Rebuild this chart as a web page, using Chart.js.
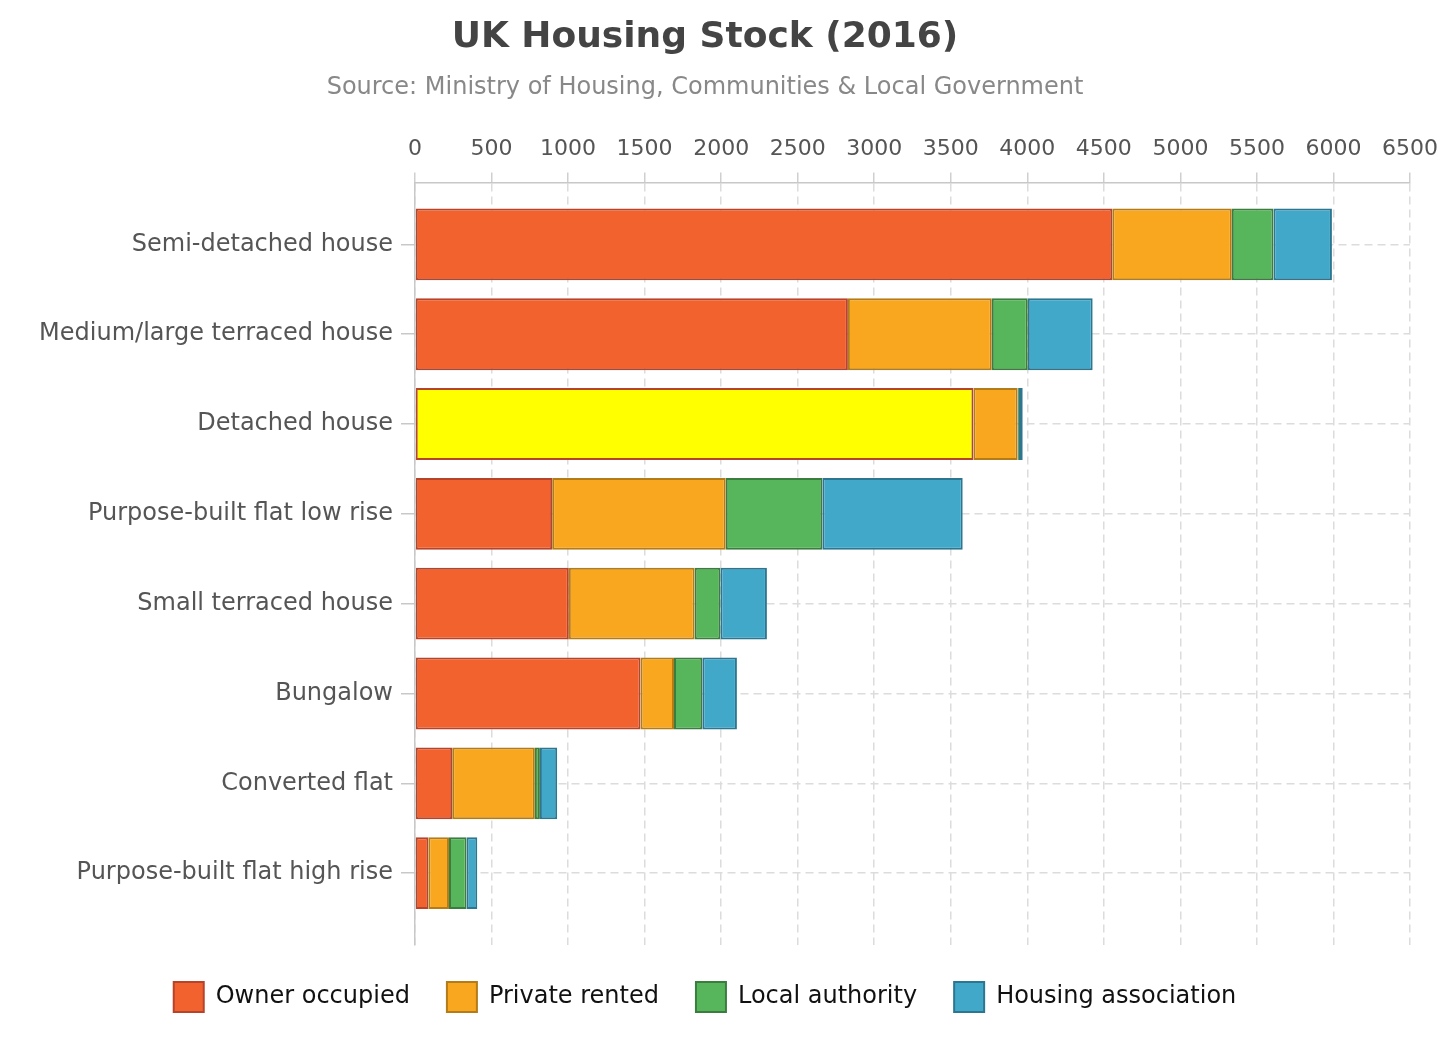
<!DOCTYPE html>
<html>
<head>
<meta charset="utf-8">
<script src="https://cdn.jsdelivr.net/npm/chart.js@4/dist/chart.umd.min.js"></script>
<style>
  html, body { margin: 0; padding: 0; background: #fff; }
  #wrap { width: 1450px; height: 1050px; }
</style>
</head>
<body>
<div id="wrap"><canvas id="housingChart"></canvas></div>
<script>
const categories = [
  'Semi-detached house',
  'Medium/large terraced house',
  'Detached house',
  'Purpose-built flat low rise',
  'Small terraced house',
  'Bungalow',
  'Converted flat',
  'Purpose-built flat high rise'
];
const ownerOccupied = [4555, 2828, 3648, 896, 1005, 1473, 243, 87];
const privateRented = [781, 940, 289, 1134, 822, 219, 540, 135];
const localAuthority = [272, 235, 8, 631, 168, 185, 33, 115];
const housingAssociation = [382, 424, 25, 917, 304, 226, 113, 70];
const xTicks = [0, 500, 1000, 1500, 2000, 2500, 3000, 3500, 4000, 4500, 5000, 5500, 6000, 6500];
const highlighted = 'Detached house';

const FONT = 'Verdana, "DejaVu Sans", sans-serif';
Chart.defaults.font.family = FONT;

// bars sit on a linear index axis so the category band can keep its outer padding
function series(values) {
  return values.map((v, i) => ({ x: v, y: i }));
}

const ownerFill = categories.map((c) => (c === highlighted ? '#ffff00' : '#f2622f'));

new Chart(document.getElementById('housingChart'), {
  type: 'bar',
  data: {
    datasets: [
      {
        label: 'Owner occupied',
        data: series(ownerOccupied),
        backgroundColor: ownerFill,
        borderColor: '#b5442a'
      },
      {
        label: 'Private rented',
        data: series(privateRented),
        backgroundColor: '#f9a71e',
        borderColor: '#b37c18'
      },
      {
        label: 'Local authority',
        data: series(localAuthority),
        backgroundColor: '#57b65b',
        borderColor: '#3a7d3f'
      },
      {
        label: 'Housing association',
        data: series(housingAssociation),
        backgroundColor: '#41a8c9',
        borderColor: '#2d7690'
      }
    ]
  },
  options: {
    indexAxis: 'y',
    responsive: true,
    maintainAspectRatio: false,
    animation: false,
    datasets: {
      bar: {
        borderWidth: 2,
        borderSkipped: false,
        categoryPercentage: 0.8,
        barPercentage: 1.0
      }
    },
    layout: {
      padding: { left: 0, right: 40, top: 0, bottom: 28 }
    },
    scales: {
      x: {
        type: 'linear',
        position: 'top',
        stacked: true,
        min: 0,
        max: 6500,
        afterBuildTicks: (scale) => {
          scale.ticks = xTicks.map((v) => ({ value: v }));
        },
        ticks: {
          color: '#555',
          font: { size: 22 },
          padding: 10,
          maxRotation: 0,
          callback: (v) => String(v)
        },
        grid: {
          color: '#dcdcdc',
          lineWidth: 1.5,
          tickLength: 10,
          tickColor: '#cfcfcf',
          tickBorderDash: []
        },
        border: { display: true, color: '#c8c8c8', width: 1.5, dash: [8, 5] }
      },
      y: {
        type: 'linear',
        reverse: true,
        stacked: true,
        offset: false,
        min: -0.69,
        max: 7.8,
        afterFit: (scale) => {
          scale.width = 415;
        },
        afterBuildTicks: (scale) => {
          scale.ticks = categories.map((c, i) => ({ value: i }));
        },
        ticks: {
          color: '#555',
          font: { size: 24 },
          padding: 8,
          callback: (v) => categories[v] ?? ''
        },
        grid: {
          offset: false,
          color: '#dcdcdc',
          lineWidth: 1.5,
          tickLength: 14,
          tickColor: '#c8c8c8',
          tickBorderDash: []
        },
        border: { display: true, color: '#c8c8c8', width: 1.5, dash: [8, 5] }
      }
    },
    plugins: {
      title: {
        display: true,
        text: 'UK Housing Stock (2016)',
        color: '#444',
        font: { size: 36, weight: 'bold' },
        padding: { top: 16, bottom: 14 }
      },
      subtitle: {
        display: true,
        text: 'Source: Ministry of Housing, Communities & Local Government',
        color: '#888',
        font: { size: 24 },
        padding: { top: 0, bottom: 24 }
      },
      legend: {
        position: 'bottom',
        labels: {
          color: '#111',
          font: { size: 24 },
          boxWidth: 30,
          boxHeight: 30,
          padding: 37
        }
      },
      tooltip: { enabled: false }
    }
  }
});
</script>
</body>
</html>
